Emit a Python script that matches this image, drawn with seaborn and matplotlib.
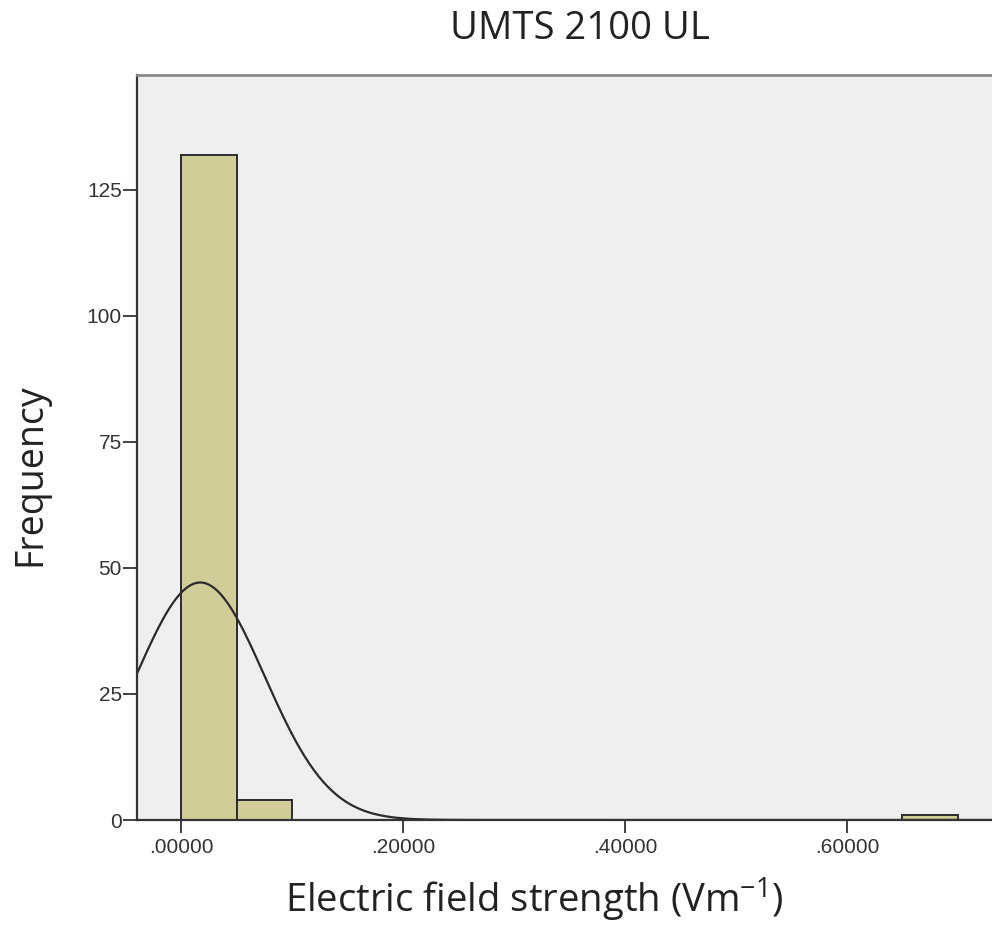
import numpy as np
import pandas as pd
import matplotlib
matplotlib.use("Agg")
import matplotlib.pyplot as plt
import seaborn as sns

# Histogram of UMTS 2100 uplink field strength with fitted normal curve
bin_width = 0.05
bin_left = [0.00, 0.05, 0.65]          # left edge of occupied bins (V/m)
counts = [132, 4, 1]                   # frequency per bin
n_total = 137
mean_val = 0.0170
sd_val = 0.0580

x_ticks = [0.0, 0.2, 0.4, 0.6]
y_ticks = [0, 25, 50, 75, 100, 125]
x_tick_labels = [".00000", ".20000", ".40000", ".60000"]

title = "UMTS 2100 UL"
x_label = r"Electric field strength (Vm$^{-1}$)"
y_label = "Frequency"

sns.set_theme(style="white")
plt.rcParams["font.family"] = ["Open Sans", "DejaVu Sans"]
plt.rcParams["mathtext.fontset"] = "custom"
plt.rcParams["mathtext.rm"] = "Open Sans"
plt.rcParams["mathtext.it"] = "Open Sans"

df = pd.DataFrame({"value": np.array(bin_left) + bin_width / 2, "count": counts})
range_end = max(bin_left) + bin_width
n_bins = int(round(range_end / bin_width))

fig = plt.figure(figsize=(9.92, 9.34), dpi=100)
ax = fig.add_axes([137 / 992, 114 / 934, 855 / 992, 745 / 934])
ax.set_facecolor("#EFEFEF")

sns.histplot(data=df, x="value", weights="count", bins=n_bins, binrange=(0.0, range_end),
             ax=ax, color="#D1CD99", alpha=1.0, edgecolor="#2B2B2B", linewidth=1.4)
# drop empty bins so only occupied bars are drawn
for p in list(ax.patches):
    if p.get_height() == 0:
        p.remove()

xs = np.linspace(-0.05, 0.75, 600)
ys = n_total * bin_width * np.exp(-0.5 * ((xs - mean_val) / sd_val) ** 2) / (sd_val * np.sqrt(2 * np.pi))
sns.lineplot(x=xs, y=ys, ax=ax, color="#2B2B2B", linewidth=1.6)

ax.set_xlim(-0.040, 0.7308)
ax.set_ylim(0, 147.8)
ax.set_xticks(x_ticks)
ax.set_xticklabels(x_tick_labels)
ax.set_yticks(y_ticks)
ax.set_xlabel("")
ax.set_ylabel("")

for lab in ax.get_xticklabels() + ax.get_yticklabels():
    lab.set_family(["Liberation Sans", "DejaVu Sans"])
    lab.set_fontsize(15)
    lab.set_color("#333333")

ax.tick_params(axis="y", direction="out", length=10, width=1.3, color="#333333", pad=1, left=True)
ax.tick_params(axis="x", direction="out", length=9, width=1.3, color="#333333", pad=4, bottom=True)

for side in ["left", "bottom"]:
    ax.spines[side].set_color("#333333")
    ax.spines[side].set_linewidth(1.6)
ax.spines["top"].set_color("#8A8A8A")
ax.spines["top"].set_linewidth(2.0)
ax.spines["right"].set_visible(False)

fig.text(580 / 992, (934 - 39) / 934, title, ha="center", va="baseline",
         fontsize=27.5, color="#222222")
fig.text(534 / 992, (934 - 913) / 934, x_label, ha="center", va="baseline",
         fontsize=27.5, color="#222222")
fig.text(40 / 992, (934 - 475) / 934, y_label, ha="center", va="baseline",
         rotation=90, fontsize=27, color="#222222", rotation_mode="anchor")

fig.savefig("out.png", dpi=100)
